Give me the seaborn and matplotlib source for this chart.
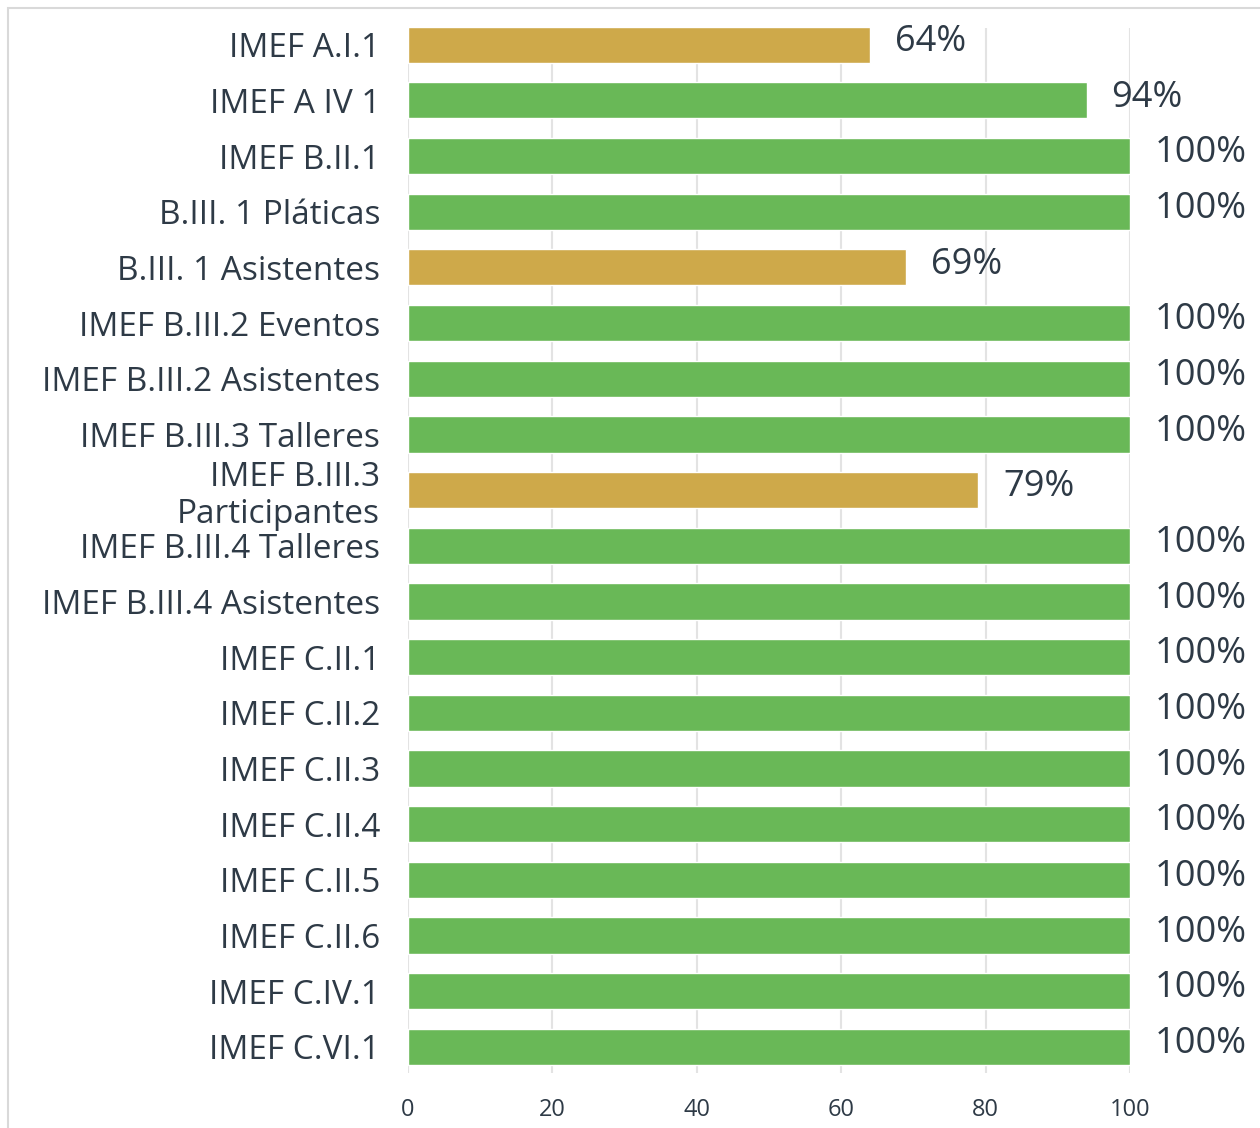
import pandas as pd
import matplotlib.pyplot as plt
import seaborn as sns
from matplotlib.patches import Rectangle

# datos
indicadores = ["IMEF A.I.1", "IMEF A IV 1", "IMEF B.II.1", "B.III. 1 Pláticas",
               "B.III. 1 Asistentes", "IMEF B.III.2 Eventos", "IMEF B.III.2 Asistentes",
               "IMEF B.III.3 Talleres", "IMEF B.III.3\nParticipantes", "IMEF B.III.4 Talleres",
               "IMEF B.III.4 Asistentes", "IMEF C.II.1", "IMEF C.II.2", "IMEF C.II.3",
               "IMEF C.II.4", "IMEF C.II.5", "IMEF C.II.6", "IMEF C.IV.1", "IMEF C.VI.1"]
avance = [64, 94, 100, 100, 69, 100, 100, 100, 79, 100, 100, 100, 100, 100, 100, 100, 100, 100, 100]
estado = ["bajo", "ok", "ok", "ok", "bajo", "ok", "ok", "ok", "bajo", "ok",
          "ok", "ok", "ok", "ok", "ok", "ok", "ok", "ok", "ok"]
colores = {"ok": "#69b857", "bajo": "#cea94a"}

df = pd.DataFrame({"indicador": indicadores, "avance": avance, "estado": estado})

sns.set_style("white")
plt.rcParams["font.family"] = ["Open Sans", "DejaVu Sans"]
texto = "#2e3a46"

fig = plt.figure(figsize=(12.6, 11.28), dpi=100)
fig.patches.append(Rectangle((8 / 1260, -0.01), 1.0, 1 - 8 / 1128 + 0.01, transform=fig.transFigure,
                             fill=False, edgecolor="#d9d9d9", linewidth=1.5))
ax = fig.add_axes([408 / 1260, 1 - 1073 / 1128, (1130 - 408) / 1260, (1073 - 28) / 1128])

sns.barplot(data=df, y="indicador", x="avance", hue="estado", palette=colores,
            orient="h", width=0.65, saturation=1, legend=False, ax=ax, zorder=3)

ax.set_xlim(0, 100)
ax.set_ylim(18.47, -0.3)
ax.set_xticks([0, 20, 40, 60, 80, 100])
ax.grid(axis="x", color="#e3e3e3", linewidth=1.5, zorder=0)
ax.set_xlabel("")
ax.set_ylabel("")
for s in ax.spines.values():
    s.set_visible(False)
ax.tick_params(axis="y", length=0, pad=20, labelsize=24, labelcolor=texto)
ax.tick_params(axis="x", length=0, pad=18, labelsize=17, labelcolor=texto)
for t in ax.get_yticklabels():
    t.set_linespacing(1.15)

# etiquetas de porcentaje
for i, v in enumerate(avance):
    ax.text(v + 3.4, i - 0.05, f"{v}%", va="center", ha="left", fontsize=26,
            color=texto, clip_on=False)

fig.savefig("out.png", dpi=100)
